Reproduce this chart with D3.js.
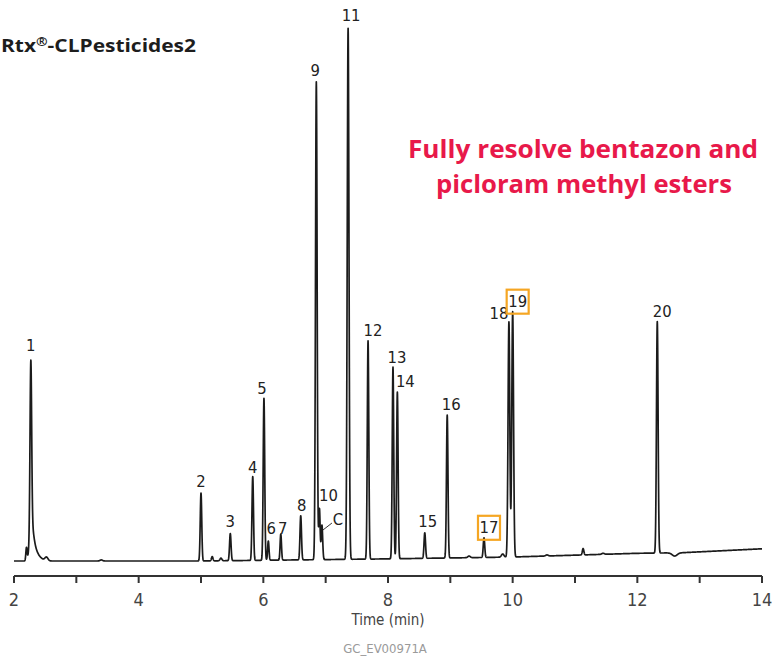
<!DOCTYPE html>
<html><head><meta charset="utf-8">
<script src="https://cdn.jsdelivr.net/npm/d3@7"></script>
<style>
html,body{margin:0;padding:0;background:#fff;}
svg{display:block;}
</style></head>
<body>
<svg id="c" width="772" height="657"></svg>
<script>
// ---- data ----
const peakLabels = ["1","2","3","4","5","6","7","8","9","10","C","11","12","13","14","15","16","17","18","19","20"];
const peakTimes  = [2.27, 5.00, 5.47, 5.83, 6.01, 6.08, 6.28, 6.60, 6.85, 6.90, 6.94, 7.36, 7.68, 8.08, 8.15, 8.59, 8.95, 9.54, 9.94, 10.00, 12.32];
const peakHeights= [32.0, 12.8, 5.1, 15.8, 30.5, 3.6, 4.9, 8.3, 90.0, 9.6, 6.5, 100, 41.1, 36.1, 31.4, 4.8, 26.9, 3.7, 44.3, 46.2, 43.6];
const peakWidths = [0.013,0.012,0.012,0.012,0.012,0.011,0.011,0.012,0.013,0.011,0.012,0.014,0.012,0.012,0.012,0.012,0.012,0.012,0.014,0.014,0.013];
// unlabeled features: time, height, width
const minorTimes   = [2.20, 2.28, 2.32, 2.38, 2.52, 3.40, 5.18, 5.32, 9.30, 9.84, 10.55, 11.13, 11.45, 12.60];
const minorHeights = [2.4, 5.0, 2.0, 0.9, 0.7, 0.2, 0.8, 0.5, 0.3, 0.6, 0.2, 1.2, 0.2, -0.6];
const minorWidths  = [0.010, 0.03, 0.04, 0.06, 0.025, 0.02, 0.012, 0.015, 0.02, 0.02, 0.02, 0.012, 0.02, 0.04];
// baseline drift
const baseTimes  = [2.0, 5.0, 8.0, 10.0, 12.0, 12.7, 14.0];
const baseValues = [0.0, 0.0, 0.4, 0.75, 1.45, 1.55, 2.3];
const xTicks = [2,3,4,5,6,7,8,9,10,11,12,13,14];
const xTickLabels = [2,4,6,8,10,12,14];
const highlighted = ["17","19"];

// ---- layout ----
const svg = d3.select("#c");
const x = d3.scaleLinear().domain([2,14]).range([14,762]);
const y = d3.scaleLinear().domain([0,100]).range([561,30]);
const baseline = d3.scaleLinear().domain(baseTimes).range(baseValues).clamp(true);

function signal(t){
  let v = baseline(t);
  for(let i=0;i<peakTimes.length;i++){
    const d=(t-peakTimes[i])/peakWidths[i];
    if(Math.abs(d)<8) v += peakHeights[i]*Math.exp(-0.5*d*d);
  }
  for(let i=0;i<minorTimes.length;i++){
    const d=(t-minorTimes[i])/minorWidths[i];
    if(Math.abs(d)<8) v += minorHeights[i]*Math.exp(-0.5*d*d);
  }
  return v;
}
const trace = d3.range(2.0, 14.0001, 0.002).map(t=>[t, signal(t)]);

svg.append("path")
  .datum(trace)
  .attr("fill","none")
  .attr("stroke","#1b1b1b")
  .attr("stroke-width",1.7)
  .attr("stroke-linejoin","round")
  .attr("d", d3.line().x(d=>x(d[0])).y(d=>y(d[1])));

// axis
const axisY = 576;
const ag = svg.append("g").attr("transform",`translate(0,${axisY})`);
ag.append("line").attr("x1",x(2)).attr("x2",x(14)).attr("y1",0).attr("y2",0)
  .attr("stroke","#333").attr("stroke-width",2);
ag.selectAll(".tk").data(xTicks).join("line")
  .attr("x1",d=>x(d)).attr("x2",d=>x(d)).attr("y1",0).attr("y2",7)
  .attr("stroke","#333").attr("stroke-width",2);
const condensed = "'Liberation Sans Narrow','DejaVu Sans Condensed','Roboto Condensed','Open Sans Condensed',sans-serif";
ag.selectAll(".tl").data(xTickLabels).join("text")
  .attr("x",d=>x(d)).attr("y",30)
  .attr("text-anchor","middle")
  .attr("font-family",condensed).attr("font-stretch","condensed")
  .attr("font-size",18).attr("fill","#444")
  .text(d=>d);
svg.append("text").attr("x",388).attr("y",625).attr("text-anchor","middle")
  .attr("font-family",condensed).attr("font-stretch","condensed")
  .attr("font-size",15).attr("fill","#444").text("Time (min)");
svg.append("text").attr("x",385).attr("y",653).attr("text-anchor","middle")
  .attr("font-family",condensed).attr("font-stretch","condensed")
  .attr("font-size",13).attr("fill","#9a9a9a").text("GC_EV00971A");

// peak labels: offsets relative to peak apex (layout only)
const labelDX = {"1":0,"2":0,"3":0,"4":0,"5":-2,"6":3,"7":2,"8":1,"9":-1,"10":9,"C":16,"11":3,"12":5,"13":4,"14":8,"15":3,"16":4,"17":5,"18":-10,"19":5,"20":5};
const labelDY = {"1":-9,"2":-6,"3":-7,"4":-4,"5":-4,"6":-7,"7":0,"8":-5,"9":-6,"10":-7,"C":0,"11":-7,"12":-5,"13":-4,"14":-5,"15":-6,"16":-5,"17":-5,"18":-3,"19":-5,"20":-5};
const peaks = peakLabels.map((l,i)=>({label:l, t:peakTimes[i], h:peakHeights[i]}));
const lg = svg.append("g");
peaks.forEach(p=>{
  const px = x(p.t), py = y(signal(p.t));
  const lx = px + labelDX[p.label], ly = py + labelDY[p.label];
  if(highlighted.includes(p.label)){
    lg.append("rect").attr("x",lx-11).attr("y",ly-17).attr("width",22).attr("height",24)
      .attr("fill","none").attr("stroke","#f5a623").attr("stroke-width",2.2);
  }
  lg.append("text").attr("x",lx).attr("y",ly)
    .attr("text-anchor","middle")
    .attr("font-family",condensed).attr("font-stretch","condensed")
    .attr("font-size",16.5).attr("fill","#222")
    .text(p.label);
  if(p.label==="C"){
    lg.append("line").attr("x1",lx-6).attr("y1",ly-2).attr("x2",px+1).attr("y2",ly+5)
      .attr("stroke","#333").attr("stroke-width",1);
  }
});

// title & annotation
const title = svg.append("text").attr("x",1).attr("y",52)
  .attr("font-family","'Open Sans','Noto Sans',sans-serif").attr("font-weight","bold")
  .attr("font-size",18).attr("fill","#1d1d1d")
  .attr("textLength",195).attr("lengthAdjust","spacingAndGlyphs");
title.append("tspan").text("Rtx");
title.append("tspan").attr("font-size",12).attr("dy",-6).text("®");
title.append("tspan").attr("dy",6).text("-CLPesticides2");
const note = svg.append("text").attr("text-anchor","middle")
  .attr("font-family","'Open Sans','Noto Sans',sans-serif").attr("font-weight","bold")
  .attr("font-size",24.5).attr("fill","#e8194a");
note.append("tspan").attr("x",583).attr("y",158)
  .attr("textLength",350).attr("lengthAdjust","spacingAndGlyphs").text("Fully resolve bentazon and");
note.append("tspan").attr("x",584).attr("y",193)
  .attr("textLength",296).attr("lengthAdjust","spacingAndGlyphs").text("picloram methyl esters");
</script>
</body></html>
